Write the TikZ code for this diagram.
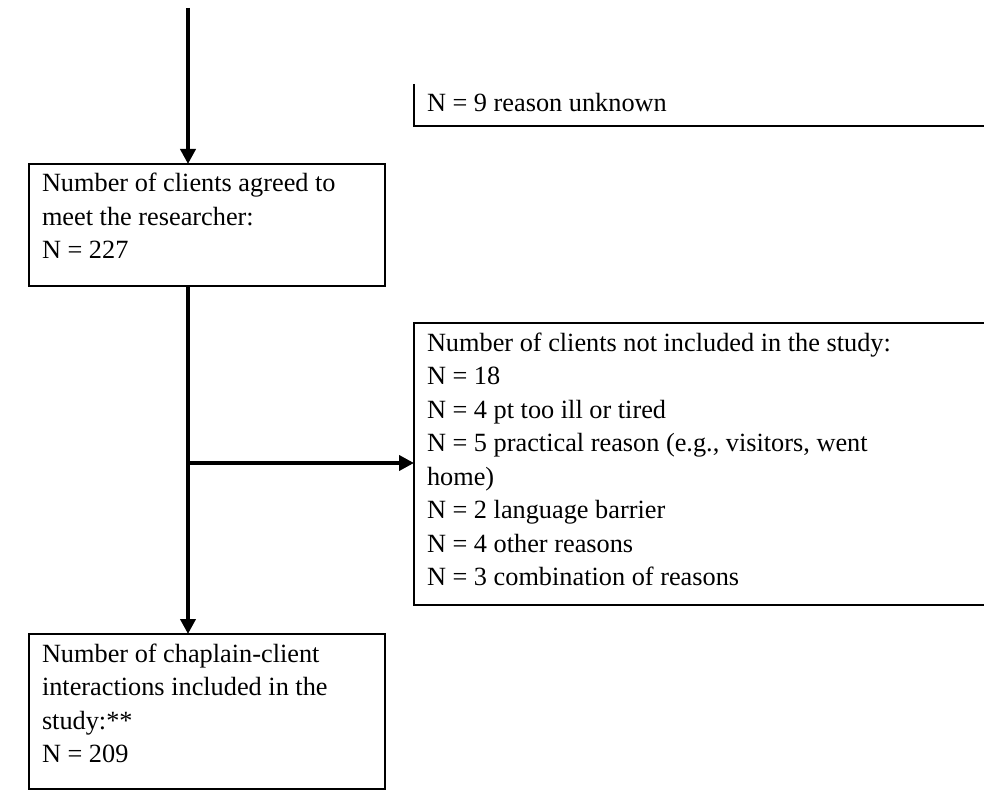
\documentclass[tikz,border=0pt]{standalone}
\usepackage{fontspec}
\setmainfont{Liberation Serif}
\usetikzlibrary{arrows.meta}
\newcommand{\boxtext}[3]{\parbox[t][#1][t]{#2}{\raggedright\fontsize{26.3pt}{33.5pt}\selectfont\rule{0pt}{28pt}#3}}
\begin{document}
\begin{tikzpicture}[x=1pt,y=-1pt,
  box/.style={draw, line width=2.2pt, inner xsep=13pt, inner ysep=0pt, outer sep=0pt, anchor=north west},
  openbox/.style={inner xsep=13pt, inner ysep=0pt, outer sep=0pt, anchor=north west},
  edge/.style={line width=2.2pt},
  flow/.style={line width=4.5pt, -{Triangle[length=15pt,width=15pt]}}]
\useasboundingbox (0,0) rectangle (984,791);

% partial box at top right (only left and bottom edges visible)
\node[openbox] (b0) at (414,84) {\boxtext{42pt}{574pt}{N = 9 reason unknown}};
\draw[edge] (b0.north west) -- (b0.south west) -- (b0.south east);

% main boxes
\node[box] (b1) at (29,164) {\boxtext{122pt}{330pt}{Number of clients agreed to\\meet the researcher:\\N = 227}};
\node[box] (b2) at (414,323) {\boxtext{282pt}{574pt}{Number of clients not included in the study:\\N = 18\\N = 4 pt too ill or tired\\N = 5 practical reason (e.g., visitors, went\\home)\\N = 2 language barrier\\N = 4 other reasons\\N = 3 combination of reasons}};
\node[box] (b3) at (29,634) {\boxtext{155pt}{330pt}{Number of chaplain-client\\interactions included in the\\study:**\\N = 209}};

% connectors
\coordinate (start) at (188,8);
\coordinate (split) at (188,463);
\draw[flow] (start) -- (start |- b1.north);
\draw[flow] (split |- b1.south) -- (split |- b3.north);
\draw[flow] (split) -- (split -| b2.west);
\end{tikzpicture}
\end{document}
